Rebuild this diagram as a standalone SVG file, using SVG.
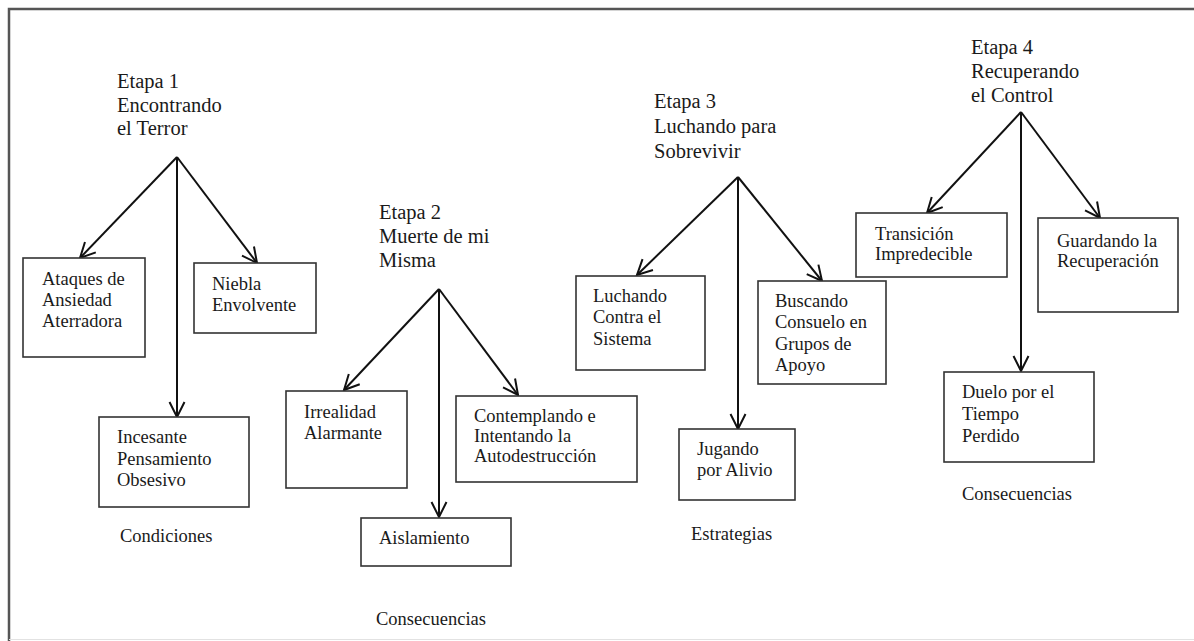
<svg xmlns="http://www.w3.org/2000/svg" width="1194" height="641" viewBox="0 0 1194 641">
<style>
  text { font-family: "Liberation Serif", "Times New Roman", serif; fill: #1a1a1a; }
  .title { font-size: 20.5px; }
  .item { font-size: 18.5px; }
  .box { fill: #ffffff; stroke: #333333; stroke-width: 1.6; }
  .conn { stroke: #111111; stroke-width: 2; fill: none; marker-end: url(#ah); }
</style>
<defs>
  <marker id="ah" viewBox="-18 -10 20 20" refX="0" refY="0" markerWidth="20" markerHeight="20" markerUnits="userSpaceOnUse" orient="auto">
    <path d="M-15,-7.5 L0,0 L-15,7.5" fill="none" stroke="#111111" stroke-width="2"/>
  </marker>
</defs>
<rect x="0" y="0" width="1194" height="641" fill="#ffffff"/>
<g id="frame">
  <path d="M9,641 V9 H1194" fill="none" stroke="#555555" stroke-width="2.5"/>
  <line x1="9" y1="639.5" x2="1194" y2="639.5" stroke="#e2e2e2" stroke-width="1"/>
</g>

<g id="connectors">
  <line class="conn" x1="177" y1="157" x2="80" y2="258"/>
  <line class="conn" x1="177" y1="157" x2="257" y2="263"/>
  <line class="conn" x1="177" y1="157" x2="177" y2="417"/>

  <line class="conn" x1="439" y1="289" x2="344" y2="390"/>
  <line class="conn" x1="439" y1="289" x2="518" y2="395"/>
  <line class="conn" x1="439" y1="289" x2="439" y2="517"/>

  <line class="conn" x1="738" y1="177" x2="637" y2="275"/>
  <line class="conn" x1="738" y1="177" x2="822" y2="281"/>
  <line class="conn" x1="738" y1="177" x2="738" y2="429"/>

  <line class="conn" x1="1021" y1="112" x2="927" y2="213"/>
  <line class="conn" x1="1021" y1="112" x2="1100" y2="218"/>
  <line class="conn" x1="1021" y1="112" x2="1021" y2="371"/>
</g>

<g id="etapa1">
  <text class="title" x="117" y="88">Etapa 1</text>
  <text class="title" x="117" y="112">Encontrando</text>
  <text class="title" x="117" y="135">el Terror</text>
</g>
<g id="etapa2">
  <text class="title" x="379" y="219">Etapa 2</text>
  <text class="title" x="379" y="243">Muerte de mi</text>
  <text class="title" x="379" y="267">Misma</text>
</g>
<g id="etapa3">
  <text class="title" x="654" y="108">Etapa 3</text>
  <text class="title" x="654" y="133">Luchando para</text>
  <text class="title" x="654" y="158">Sobrevivir</text>
</g>
<g id="etapa4">
  <text class="title" x="971" y="54">Etapa 4</text>
  <text class="title" x="971" y="78">Recuperando</text>
  <text class="title" x="971" y="102">el Control</text>
</g>

<g id="ataques">
  <rect class="box" x="23" y="258" width="122" height="99"/>
  <text class="item" x="42" y="285">Ataques de</text>
  <text class="item" x="42" y="306">Ansiedad</text>
  <text class="item" x="42" y="327">Aterradora</text>
</g>
<g id="niebla">
  <rect class="box" x="194" y="263" width="122" height="70"/>
  <text class="item" x="212" y="290">Niebla</text>
  <text class="item" x="212" y="311">Envolvente</text>
</g>
<g id="incesante">
  <rect class="box" x="99" y="417" width="150" height="90"/>
  <text class="item" x="117" y="443">Incesante</text>
  <text class="item" x="117" y="465">Pensamiento</text>
  <text class="item" x="117" y="486">Obsesivo</text>
</g>
<g id="condiciones">
  <text class="item" x="120" y="542">Condiciones</text>
</g>

<g id="irrealidad">
  <rect class="box" x="286" y="391" width="121" height="97"/>
  <text class="item" x="304" y="418">Irrealidad</text>
  <text class="item" x="304" y="439">Alarmante</text>
</g>
<g id="contemplando">
  <rect class="box" x="456" y="396" width="181" height="86"/>
  <text class="item" x="474" y="422">Contemplando e</text>
  <text class="item" x="474" y="442">Intentando la</text>
  <text class="item" x="474" y="462">Autodestrucción</text>
</g>
<g id="aislamiento">
  <rect class="box" x="361" y="518" width="150" height="48"/>
  <text class="item" x="379" y="544">Aislamiento</text>
</g>
<g id="consecuencias2">
  <text class="item" x="376" y="625">Consecuencias</text>
</g>

<g id="luchando">
  <rect class="box" x="576" y="276" width="129" height="94"/>
  <text class="item" x="593" y="302">Luchando</text>
  <text class="item" x="593" y="323">Contra el</text>
  <text class="item" x="593" y="345">Sistema</text>
</g>
<g id="buscando">
  <rect class="box" x="758" y="281" width="128" height="103"/>
  <text class="item" x="775" y="307">Buscando</text>
  <text class="item" x="775" y="328">Consuelo en</text>
  <text class="item" x="775" y="350">Grupos de</text>
  <text class="item" x="775" y="371">Apoyo</text>
</g>
<g id="jugando">
  <rect class="box" x="679" y="429" width="116" height="71"/>
  <text class="item" x="697" y="455">Jugando</text>
  <text class="item" x="697" y="476">por Alivio</text>
</g>
<g id="estrategias">
  <text class="item" x="691" y="540">Estrategias</text>
</g>

<g id="transicion">
  <rect class="box" x="856" y="213" width="151" height="64"/>
  <text class="item" x="875" y="240">Transición</text>
  <text class="item" x="875" y="260">Impredecible</text>
</g>
<g id="guardando">
  <rect class="box" x="1038" y="218" width="140" height="94"/>
  <text class="item" x="1057" y="247">Guardando la</text>
  <text class="item" x="1057" y="267">Recuperación</text>
</g>
<g id="duelo">
  <rect class="box" x="944" y="372" width="150" height="90"/>
  <text class="item" x="962" y="398">Duelo por el</text>
  <text class="item" x="962" y="420">Tiempo</text>
  <text class="item" x="962" y="442">Perdido</text>
</g>
<g id="consecuencias4">
  <text class="item" x="962" y="500">Consecuencias</text>
</g>
</svg>
